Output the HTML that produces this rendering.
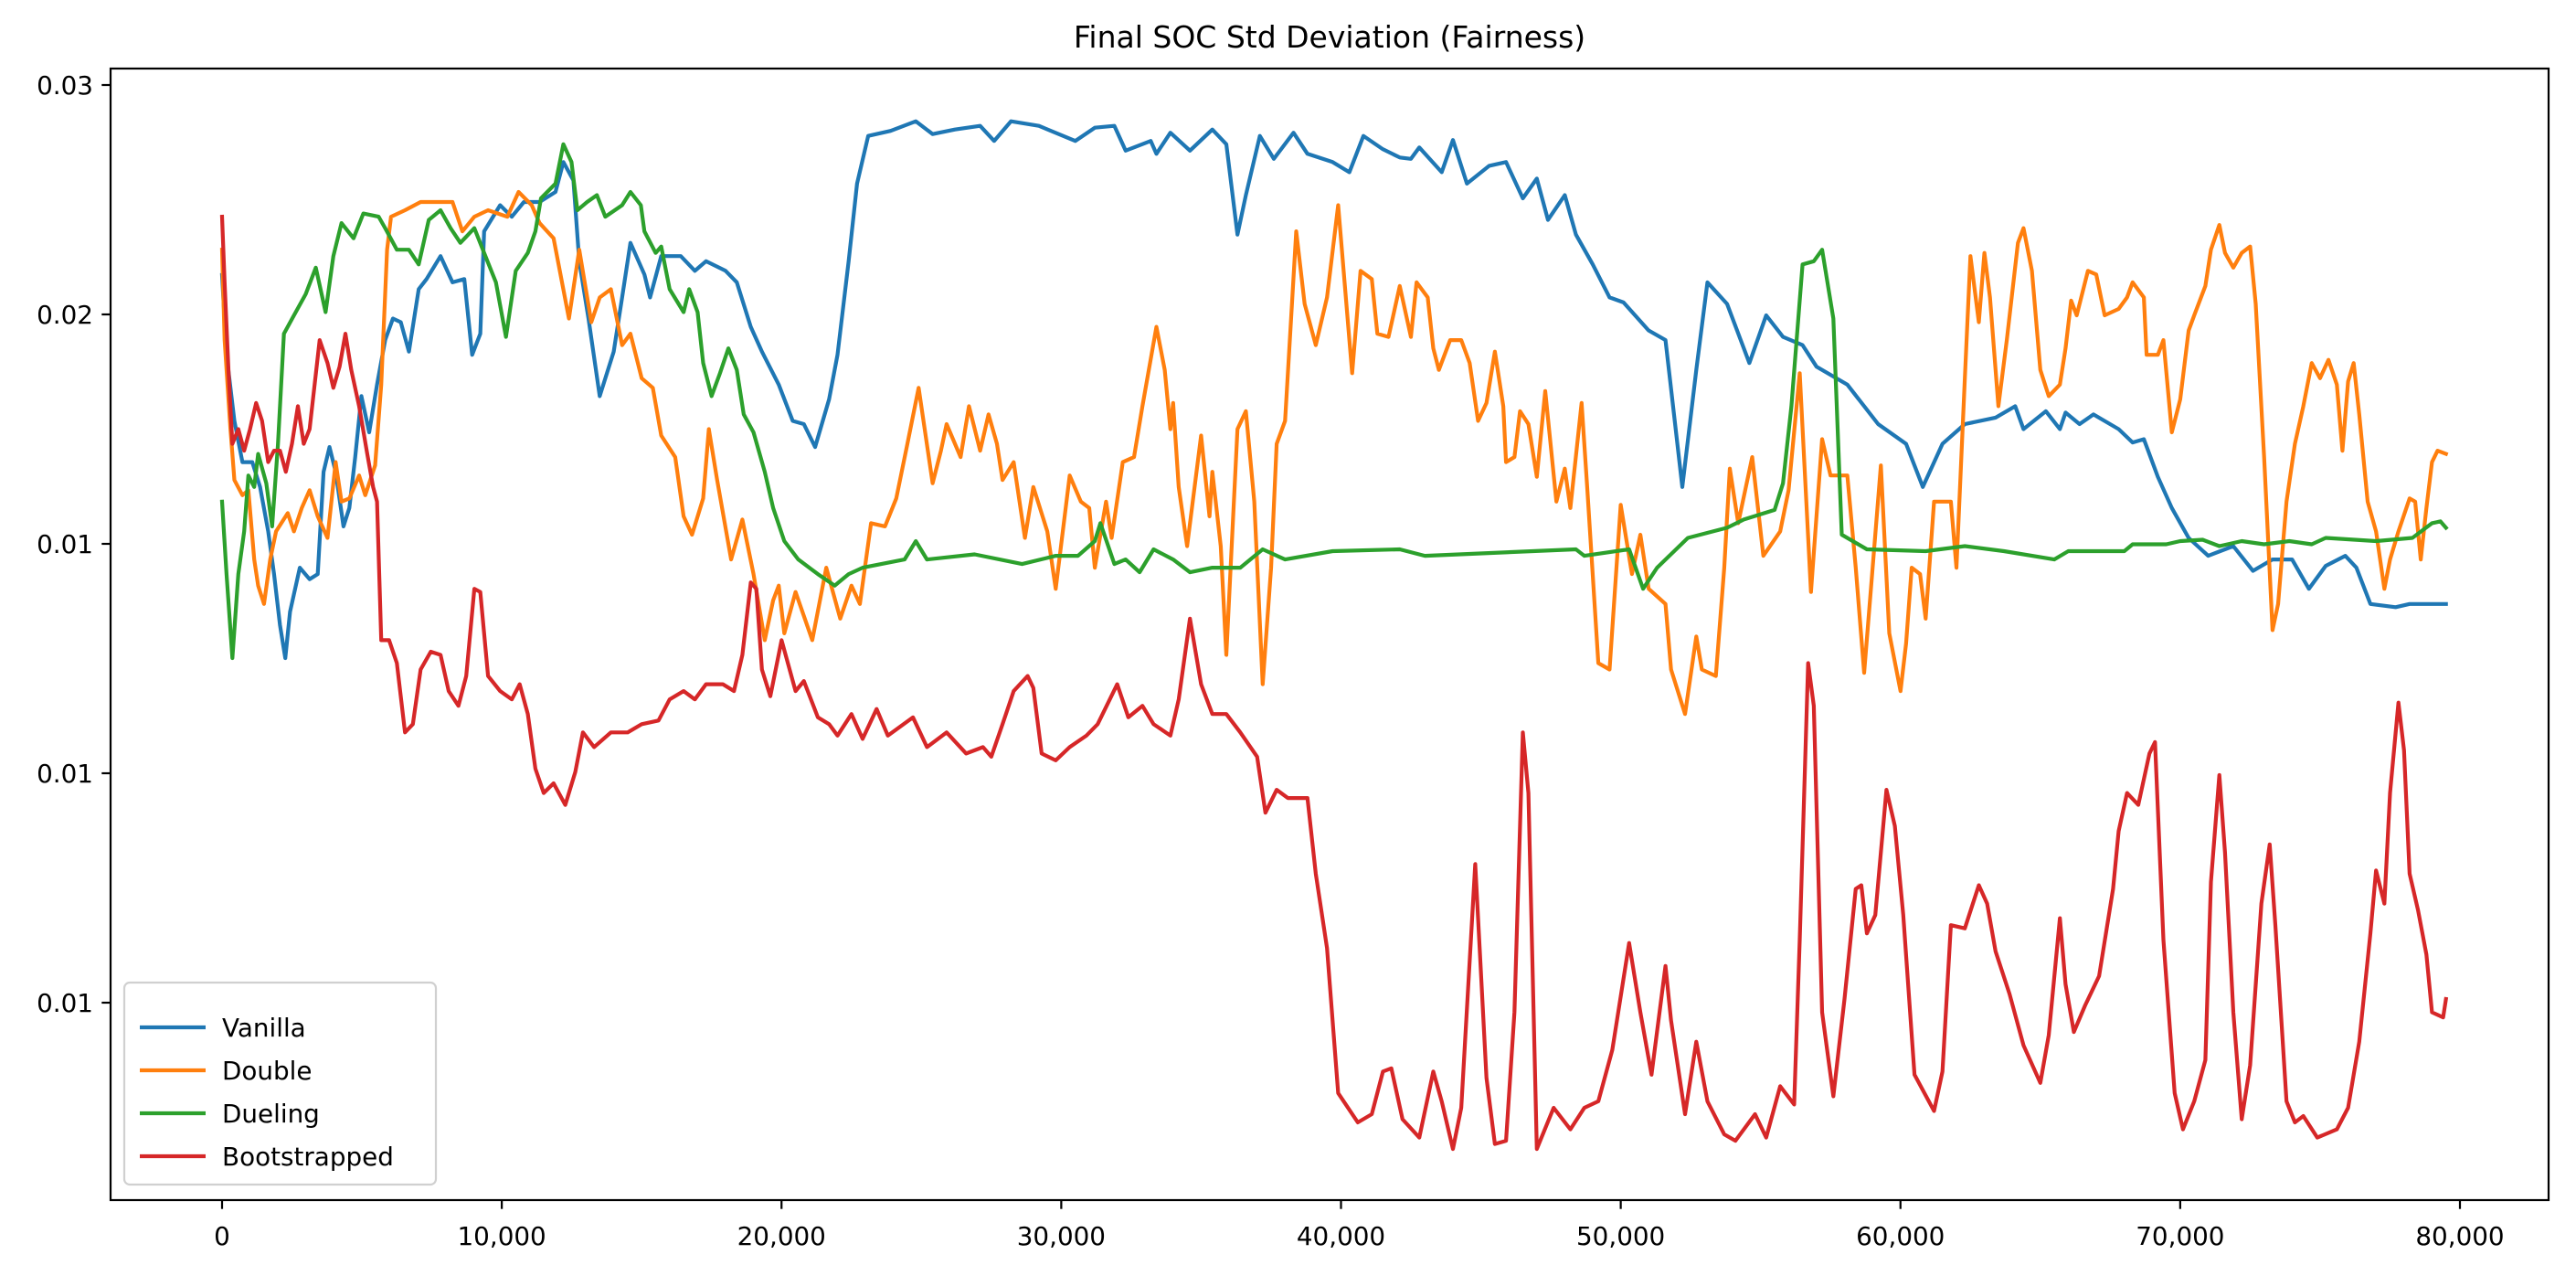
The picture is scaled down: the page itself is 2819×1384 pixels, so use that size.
<!DOCTYPE html>
<html><head><meta charset="utf-8"><style>
html,body{margin:0;padding:0;background:#fff;}
svg{display:block;font-family:"DejaVu Sans","Liberation Sans",sans-serif;}
</style></head><body>
<svg id="chart" width="2819" height="1384" viewBox="0 0 2819 1384" xmlns="http://www.w3.org/2000/svg">
<rect x="0" y="0" width="2819" height="1384" fill="#fff"/>
<text x="1455" y="52" font-size="33" text-anchor="middle" fill="#000">Final SOC Std Deviation (Fairness)</text>
<g id="plot"></g>
<g id="axes"></g>
<g id="legend"></g>
</svg>
<script>
// x in thousands of steps, y in units of 1e-3
const xTicks = [0,10,20,30,40,50,60,70,80];
const xTickLabels = ["0","10,000","20,000","30,000","40,000","50,000","60,000","70,000","80,000"];
const yTicks = [25,20,15,10,5];
const yTickLabels = ["0.03","0.02","0.01","0.01","0.01"];
const seriesNames = ["Vanilla","Double","Dueling","Bootstrapped"];
const seriesColors = ["#1f77b4","#ff7f0e","#2ca02c","#d62728"];

const vanillaX = [0,0.16,0.44,0.73,1.08,1.36,1.65,1.86,2.07,2.26,2.43,2.78,3.13,3.42,3.63,3.84,4.06,4.34,4.55,4.76,4.98,5.26,5.54,5.83,6.11,6.39,6.68,7.03,7.31,7.81,8.24,8.66,8.94,9.23,9.37,9.94,10.36,10.79,11.35,11.92,12.2,12.56,12.77,13.1,13.5,14.0,14.3,14.6,15.1,15.3,15.7,16.4,16.9,17.3,18.0,18.4,18.9,19.3,19.9,20.4,20.8,21.2,21.7,22.0,22.4,22.7,23.1,23.9,24.8,25.4,26.2,27.1,27.6,28.2,29.2,30.5,31.2,31.9,32.3,33.2,33.4,33.9,34.6,35.4,35.9,36.3,36.6,37.1,37.6,38.3,38.8,39.7,40.3,40.8,41.5,42.1,42.5,42.8,43.6,44.0,44.5,45.3,45.9,46.5,47.0,47.4,48.0,48.4,49.0,49.6,50.1,51.0,51.6,52.2,52.7,53.1,53.8,54.6,55.2,55.8,56.5,57.0,58.1,59.2,60.2,60.8,61.5,62.3,63.4,64.1,64.4,65.2,65.7,65.9,66.4,66.9,67.8,68.3,68.7,69.2,69.7,70.3,71.0,71.9,72.6,73.3,74.0,74.6,75.2,75.9,76.3,76.8,77.7,78.2,79.5];
const vanillaY = [20.86,19.12,17.68,16.78,16.78,16.24,15.27,14.34,13.23,12.51,13.52,14.48,14.23,14.34,16.57,17.11,16.57,15.38,15.78,16.89,18.22,17.43,18.47,19.44,19.91,19.83,19.19,20.55,20.77,21.27,20.70,20.77,19.12,19.58,21.81,22.38,22.13,22.45,22.45,22.67,23.32,22.92,21.16,19.91,18.22,19.19,20.37,21.56,20.87,20.37,21.27,21.27,20.95,21.16,20.95,20.70,19.73,19.19,18.47,17.68,17.61,17.11,18.15,19.12,21.16,22.85,23.89,24.00,24.21,23.93,24.03,24.11,23.78,24.21,24.11,23.78,24.07,24.11,23.57,23.78,23.50,23.96,23.57,24.03,23.71,21.74,22.60,23.89,23.39,23.96,23.50,23.32,23.10,23.89,23.60,23.42,23.39,23.64,23.10,23.80,22.85,23.24,23.32,22.53,22.96,22.06,22.60,21.74,21.09,20.37,20.26,19.65,19.44,16.24,18.79,20.70,20.23,18.94,19.98,19.51,19.33,18.86,18.47,17.61,17.18,16.24,17.18,17.61,17.75,18.00,17.50,17.89,17.50,17.86,17.61,17.82,17.50,17.21,17.28,16.46,15.78,15.13,14.74,14.95,14.41,14.66,14.66,14.02,14.52,14.74,14.48,13.69,13.62,13.69,13.69];

const doubleX = [0,0.09,0.30,0.44,0.73,0.94,1.15,1.29,1.5,1.72,1.93,2.35,2.57,2.85,3.13,3.42,3.77,4.06,4.27,4.55,4.9,5.12,5.47,5.69,5.9,6.04,6.54,7.1,8.24,8.59,9.02,9.51,10.2,10.6,11.07,11.35,11.85,12.4,12.77,13.2,13.5,13.9,14.3,14.6,15.0,15.4,15.7,16.2,16.5,16.8,17.2,17.4,17.7,18.2,18.6,19.0,19.4,19.7,19.9,20.1,20.5,21.1,21.6,22.1,22.5,22.8,23.2,23.7,24.1,24.5,24.9,25.4,25.7,25.9,26.4,26.7,27.1,27.4,27.7,27.9,28.3,28.7,29.0,29.5,29.8,30.3,30.7,31.0,31.2,31.6,31.8,32.2,32.6,32.9,33.4,33.7,33.9,34.0,34.2,34.5,35.0,35.3,35.4,35.7,35.9,36.3,36.6,36.9,37.2,37.5,37.7,38.0,38.4,38.7,39.1,39.5,39.9,40.4,40.7,41.1,41.3,41.7,42.1,42.5,42.7,43.1,43.3,43.5,43.9,44.3,44.6,44.9,45.2,45.5,45.8,45.9,46.2,46.4,46.7,47.0,47.3,47.7,48.0,48.2,48.6,48.8,49.2,49.6,50.0,50.4,50.7,51.0,51.6,51.8,52.3,52.7,52.9,53.4,53.7,53.9,54.2,54.7,55.1,55.7,56.0,56.4,56.8,57.2,57.5,58.1,58.4,58.7,59.3,59.6,60.0,60.2,60.4,60.7,60.9,61.2,61.8,62.0,62.3,62.5,62.8,63.0,63.2,63.5,63.8,64.2,64.4,64.7,65.0,65.3,65.7,65.9,66.1,66.3,66.7,67.0,67.3,67.8,68.1,68.3,68.7,68.8,69.2,69.4,69.7,70.0,70.3,70.5,70.9,71.1,71.4,71.6,71.9,72.2,72.5,72.7,73.0,73.3,73.5,73.8,74.1,74.4,74.7,75.0,75.3,75.6,75.8,76.0,76.2,76.4,76.7,77.0,77.3,77.5,77.8,78.2,78.4,78.6,78.8,79.0,79.2,79.5];
const doubleY = [21.41,19.44,17.50,16.39,16.06,16.17,14.66,14.09,13.69,14.66,15.27,15.67,15.27,15.78,16.17,15.60,15.13,16.78,15.92,15.99,16.49,16.06,16.71,18.47,21.41,22.13,22.27,22.45,22.45,21.81,22.13,22.27,22.13,22.67,22.38,21.99,21.66,19.91,21.41,19.83,20.37,20.55,19.33,19.58,18.61,18.40,17.36,16.89,15.60,15.20,15.99,17.50,16.39,14.66,15.53,14.34,12.90,13.77,14.09,13.05,13.95,12.90,14.48,13.37,14.09,13.69,15.45,15.38,15.99,17.18,18.40,16.32,17.03,17.61,16.89,18.00,17.03,17.82,17.18,16.39,16.78,15.13,16.24,15.27,14.02,16.49,15.92,15.78,14.48,15.92,15.13,16.78,16.89,18.00,19.73,18.79,17.50,18.07,16.24,14.95,17.36,15.60,16.57,14.95,12.58,17.50,17.89,15.92,11.94,14.48,17.18,17.68,21.81,20.23,19.33,20.37,22.38,18.72,20.95,20.77,19.58,19.51,20.62,19.51,20.70,20.37,19.26,18.79,19.44,19.44,18.94,17.68,18.07,19.19,18.00,16.78,16.89,17.89,17.61,16.46,18.33,15.92,16.64,15.78,18.07,16.24,12.40,12.26,15.85,14.34,15.20,14.02,13.69,12.26,11.29,12.98,12.26,12.12,14.48,16.64,15.45,16.89,14.74,15.27,16.17,18.72,13.95,17.28,16.49,16.49,14.48,12.19,16.71,13.05,11.79,12.83,14.48,14.34,13.37,15.92,15.92,14.48,18.61,21.27,19.83,21.34,20.37,18.00,19.44,21.56,21.88,20.95,18.79,18.22,18.47,19.26,20.30,19.98,20.95,20.87,19.98,20.12,20.37,20.70,20.37,19.12,19.12,19.44,17.43,18.15,19.65,19.98,20.62,21.41,21.95,21.34,21.02,21.34,21.48,20.23,16.89,13.12,13.69,15.92,17.18,18.00,18.94,18.61,19.01,18.47,17.03,18.54,18.94,17.82,15.92,15.27,14.02,14.66,15.27,15.99,15.92,14.66,15.78,16.78,17.03,16.96];

const duelingX = [0,0.16,0.37,0.58,0.79,0.94,1.15,1.29,1.58,1.79,2.0,2.21,2.57,2.99,3.35,3.7,3.98,4.27,4.7,5.05,5.6,5.83,6.25,6.68,7.03,7.39,7.81,8.17,8.52,9.02,9.37,9.79,10.15,10.5,10.93,11.2,11.4,11.92,12.2,12.49,12.7,13.05,13.4,13.7,14.3,14.6,14.97,15.1,15.5,15.7,16.0,16.5,16.7,17.0,17.2,17.5,17.8,18.1,18.4,18.65,19.0,19.4,19.7,20.1,20.6,21.3,21.9,22.4,22.9,24.4,24.8,25.2,26.9,28.6,29.8,30.6,31.2,31.4,31.9,32.3,32.8,33.3,34.0,34.6,35.4,36.4,37.2,38.0,39.7,42.1,43.0,48.4,48.7,50.3,50.8,51.3,52.4,53.8,54.4,55.5,55.8,56.1,56.5,56.9,57.2,57.6,57.9,58.8,60.9,62.3,63.7,65.5,66.0,68.0,68.3,69.5,70.0,70.8,71.4,72.2,73.0,73.9,74.7,75.2,77.0,78.3,79.0,79.3,79.5];
const duelingY = [15.92,14.34,12.51,14.34,15.27,16.49,16.24,16.96,16.32,15.38,17.18,19.58,19.98,20.44,21.02,20.05,21.27,21.99,21.66,22.20,22.13,21.88,21.41,21.41,21.09,22.06,22.27,21.88,21.56,21.88,21.34,20.70,19.51,20.95,21.34,21.81,22.53,22.85,23.71,23.32,22.27,22.45,22.60,22.13,22.38,22.67,22.38,21.81,21.34,21.48,20.55,20.05,20.55,20.05,18.94,18.22,18.72,19.26,18.79,17.82,17.43,16.57,15.78,15.06,14.66,14.34,14.09,14.34,14.48,14.66,15.06,14.66,14.77,14.56,14.74,14.74,15.06,15.45,14.56,14.66,14.38,14.88,14.66,14.38,14.48,14.48,14.88,14.66,14.84,14.88,14.74,14.88,14.74,14.88,14.02,14.48,15.13,15.35,15.53,15.74,16.32,18.00,21.09,21.16,21.41,19.91,15.20,14.88,14.84,14.95,14.84,14.66,14.84,14.84,14.99,14.99,15.06,15.09,14.95,15.06,14.99,15.06,14.99,15.13,15.06,15.13,15.45,15.49,15.35];

const bootX = [0,0.09,0.23,0.37,0.58,0.79,1.0,1.22,1.43,1.65,1.86,2.07,2.28,2.5,2.71,2.92,3.13,3.49,3.77,3.98,4.2,4.41,4.62,4.9,5.19,5.4,5.54,5.69,5.97,6.25,6.54,6.82,7.1,7.46,7.81,8.1,8.45,8.73,9.02,9.23,9.51,9.94,10.36,10.64,10.93,11.2,11.5,11.85,12.27,12.63,12.9,13.3,13.9,14.5,15.0,15.6,16.0,16.5,16.9,17.3,17.9,18.3,18.6,18.9,19.1,19.3,19.6,20.0,20.5,20.8,21.3,21.7,22.0,22.5,22.9,23.4,23.8,24.7,25.2,25.9,26.6,27.2,27.5,27.9,28.3,28.8,29.0,29.3,29.8,30.3,30.9,31.3,32.0,32.4,32.9,33.3,33.9,34.2,34.6,35.0,35.4,35.9,36.4,37.0,37.3,37.7,38.1,38.8,39.1,39.5,39.9,40.6,41.1,41.5,41.8,42.2,42.8,43.3,43.6,44.0,44.3,44.8,45.2,45.5,45.9,46.2,46.5,46.7,47.0,47.6,48.2,48.7,49.2,49.7,50.3,50.7,51.1,51.6,51.8,52.3,52.7,53.1,53.7,54.1,54.8,55.2,55.7,56.2,56.4,56.7,56.9,57.2,57.6,58.0,58.4,58.6,58.8,59.1,59.5,59.8,60.1,60.5,61.2,61.5,61.8,62.3,62.8,63.1,63.4,63.9,64.4,65.0,65.3,65.7,65.9,66.2,66.6,67.1,67.6,67.8,68.1,68.5,68.9,69.1,69.4,69.8,70.1,70.5,70.9,71.1,71.4,71.6,71.9,72.2,72.5,72.9,73.2,73.4,73.8,74.1,74.4,74.9,75.6,76.0,76.4,76.8,77.0,77.3,77.5,77.8,78.0,78.2,78.5,78.8,79.0,79.4,79.5];
const bootY = [22.13,20.70,18.79,17.18,17.50,17.03,17.50,18.07,17.68,16.78,17.03,17.03,16.57,17.18,18.00,17.18,17.50,19.44,18.94,18.40,18.86,19.58,18.79,18.00,16.96,16.24,15.92,12.90,12.90,12.40,10.89,11.07,12.26,12.65,12.58,11.79,11.47,12.12,14.02,13.95,12.12,11.79,11.61,11.94,11.29,10.10,9.57,9.78,9.31,10.03,10.89,10.57,10.89,10.89,11.07,11.15,11.61,11.79,11.61,11.94,11.94,11.79,12.58,14.16,14.02,12.26,11.68,12.90,11.79,12.01,11.22,11.07,10.82,11.29,10.75,11.40,10.82,11.22,10.57,10.89,10.43,10.57,10.36,11.07,11.79,12.12,11.86,10.43,10.28,10.57,10.82,11.07,11.94,11.22,11.47,11.07,10.82,11.61,13.37,11.94,11.29,11.29,10.89,10.36,9.14,9.64,9.46,9.46,7.81,6.19,3.03,2.39,2.57,3.50,3.57,2.46,2.06,3.50,2.85,1.81,2.71,8.02,3.36,1.92,1.99,4.79,10.89,9.57,1.81,2.71,2.24,2.71,2.85,3.97,6.30,4.79,3.43,5.80,4.61,2.57,4.15,2.85,2.13,1.99,2.57,2.06,3.18,2.78,6.37,12.40,11.47,4.79,2.96,5.08,7.48,7.56,6.51,6.91,9.64,8.85,6.91,3.43,2.64,3.50,6.69,6.62,7.56,7.16,6.12,5.19,4.07,3.25,4.29,6.84,5.40,4.36,4.94,5.58,7.48,8.74,9.57,9.31,10.43,10.68,6.37,3.03,2.24,2.85,3.75,7.63,9.96,8.27,4.79,2.46,3.64,7.16,8.45,6.69,2.85,2.39,2.53,2.06,2.24,2.71,4.15,6.51,7.88,7.16,9.57,11.54,10.50,7.81,7.02,6.05,4.79,4.68,5.08];

const seriesX = [vanillaX, doubleX, duelingX, bootX];
const seriesY = [vanillaY, doubleY, duelingY, bootY];

const AX = {left:121, right:2789, top:75, bottom:1313};
function xScale(k){ return 243 + (k - 0) * (2692 - 243) / 80; }
function yScale(v){ return 93 + (25 - v) * (1097 - 93) / 20; }

const NS = "http://www.w3.org/2000/svg";
function mk(tag, attrs, parent){
  const el = document.createElementNS(NS, tag);
  for (const k in attrs) el.setAttribute(k, attrs[k]);
  parent.appendChild(el);
  return el;
}
const plot = document.getElementById('plot');
const axes = document.getElementById('axes');
const legend = document.getElementById('legend');

// clip
const defs = mk('defs', {}, plot);
const cp = mk('clipPath', {id:'clip'}, defs);
mk('rect', {x:AX.left, y:AX.top, width:AX.right-AX.left, height:AX.bottom-AX.top}, cp);

seriesNames.forEach((name, i) => {
  const xs = seriesX[i], ys = seriesY[i];
  let d = '';
  for (let j = 0; j < xs.length; j++) {
    d += (j ? 'L' : 'M') + xScale(xs[j]).toFixed(1) + ',' + yScale(ys[j]).toFixed(1);
  }
  const p = mk('path', {d:d, fill:'none', stroke:seriesColors[i], 'stroke-width':4.2, 'stroke-linejoin':'round', 'stroke-linecap':'square', 'clip-path':'url(#clip)'}, plot);
  
  
});

// frame
const fr = mk('rect', {x:AX.left, y:AX.top, width:AX.right-AX.left, height:AX.bottom-AX.top, fill:'none', stroke:'#000', 'stroke-width':2.2}, axes);



xTicks.forEach((t, i) => {
  const x = xScale(t);
  const tk = mk('line', {x1:x, x2:x, y1:AX.bottom, y2:AX.bottom+9.7, stroke:'#000', 'stroke-width':2.2}, axes);
  
  
  const tx = mk('text', {x:x, y:AX.bottom+49, 'font-size':27.8, 'text-anchor':'middle', fill:'#000'}, axes);
  tx.textContent = xTickLabels[i];
  
  
});
yTicks.forEach((t, i) => {
  const y = yScale(t);
  const tk = mk('line', {x1:AX.left-9.7, x2:AX.left, y1:y, y2:y, stroke:'#000', 'stroke-width':2.2}, axes);
  
  
  const tx = mk('text', {x:AX.left-19, y:y+10, 'font-size':27.8, 'text-anchor':'end', fill:'#000'}, axes);
  tx.textContent = yTickLabels[i];
  
  
});

// legend
const lb = mk('rect', {x:136, y:1075, width:341, height:221, rx:6, fill:'#fff', 'fill-opacity':0.8, stroke:'#d0d0d0', 'stroke-width':2.2}, legend);


seriesNames.forEach((name, i) => {
  const y = 1124 + i * 47;
  const g = mk('g', {}, legend);
  
  
  mk('line', {x1:153, x2:225, y1:y, y2:y, stroke:seriesColors[i], 'stroke-width':4.2}, g);
  const tx = mk('text', {x:243, y:y+10, 'font-size':27.8, fill:'#000'}, g);
  tx.textContent = name;
});
</script>
</body></html>
